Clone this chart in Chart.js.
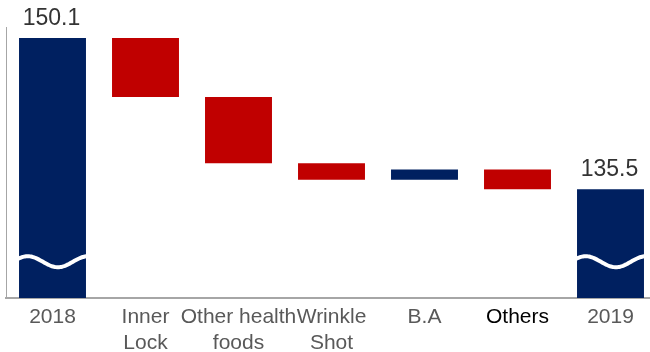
<!doctype html>
<html lang="en">
  <head>
    <meta charset="utf-8">
    <title>Waterfall 2018 - 2019</title>
    <style>
      * {
        margin: 0;
        padding: 0;
      }
      body {
        width: 650px;
        height: 352px;
        overflow: hidden;
        background: white;
      }
      .chartBox {
        width: 657px;
        height: 352px;
      }
    </style>
  </head>
  <body>
    <div class="chartBox">
      <canvas id="myChart"></canvas>
    </div>
    <script src="https://cdn.jsdelivr.net/npm/chart.js/dist/chart.umd.min.js"></script>
    <script>
// data
const categories = ['2018', ['Inner', 'Lock'], ['Other health', 'foods'], ['Wrinkle', 'Shot'], 'B.A', 'Others', '2019'];
const totals = [150.1, null, null, null, null, null, 135.5];
const changes = [null, -5.7, -6.4, -1.6, 1.0, -1.9, null];
const labelColors = ['#595959', '#595959', '#595959', '#595959', '#595959', '#000000', '#595959'];

const yMin = 125;
const yMax = 151.15;
const breakValue = 128.5;

const navy = '#002060';
const red = '#C00000';
const fontFamily = "'Liberation Sans', Arial, sans-serif";

// waterfall ranges
let running = 0;
const ranges = categories.map((c, i) => {
  if (totals[i] !== null) {
    running = totals[i];
    return [0, totals[i]];
  }
  const start = running;
  running = +(running + changes[i]).toFixed(1);
  return [start, running];
});
const barColors = categories.map((c, i) => (changes[i] !== null && changes[i] < 0) ? red : navy);

// plugin: left line, break waves and value labels
const extras = {
  id: 'extras',
  beforeDatasetsDraw(chart) {
    const {ctx, chartArea} = chart;
    ctx.save();
    ctx.strokeStyle = '#a6a6a6';
    ctx.lineWidth = 1;
    ctx.beginPath();
    ctx.moveTo(chartArea.left + 0.5, chartArea.top);
    ctx.lineTo(chartArea.left + 0.5, chartArea.bottom);
    ctx.stroke();
    ctx.restore();
  },
  afterDatasetsDraw(chart) {
    const {ctx} = chart;
    const yScale = chart.scales.y;
    const meta = chart.getDatasetMeta(0);
    meta.data.forEach((bar, i) => {
      if (totals[i] === null) return;
      const left = bar.x - bar.width / 2;
      const w = bar.width;
      const cy = yScale.getPixelForValue(breakValue);
      // wave
      ctx.save();
      ctx.beginPath();
      ctx.rect(left, cy - 20, w, 40);
      ctx.clip();
      ctx.strokeStyle = 'white';
      ctx.lineWidth = 4;
      ctx.beginPath();
      for (let x = left - 2; x <= left + w + 2; x += 1) {
        const y = cy - 5.5 * Math.cos(2 * Math.PI * (x - left - 0.13 * w) / (0.9 * w));
        if (x === left - 2) ctx.moveTo(x, y); else ctx.lineTo(x, y);
      }
      ctx.stroke();
      ctx.restore();
      // value label
      ctx.save();
      ctx.fillStyle = '#333333';
      ctx.font = '23px ' + fontFamily;
      ctx.textAlign = 'center';
      ctx.textBaseline = 'alphabetic';
      ctx.fillText(totals[i].toFixed(1), bar.x - 1, bar.y - 13);
      ctx.restore();
    });
  }
};

const data = {
  labels: categories,
  datasets: [{
    data: ranges,
    backgroundColor: barColors,
    borderWidth: 0,
    barPercentage: 0.72,
    categoryPercentage: 1
  }]
};

const config = {
  type: 'bar',
  data,
  options: {
    responsive: true,
    maintainAspectRatio: false,
    animation: false,
    layout: {
      padding: {left: 6, right: 0, top: 27, bottom: 0}
    },
    plugins: {
      legend: {display: false},
      tooltip: {enabled: false}
    },
    scales: {
      x: {
        grid: {display: false, drawTicks: false},
        border: {display: true, color: '#a6a6a6', width: 2},
        ticks: {
          autoSkip: false,
          maxRotation: 0,
          minRotation: 0,
          padding: 7,
          color: ctx => labelColors[ctx.index],
          font: {family: fontFamily, size: 21, lineHeight: 1.2}
        },
        afterFit: scale => { scale.height = 54; }
      },
      y: {
        display: false,
        min: yMin,
        max: yMax
      }
    }
  },
  plugins: [extras]
};

const myChart = new Chart(document.getElementById('myChart'), config);
    </script>
  </body>
</html>
